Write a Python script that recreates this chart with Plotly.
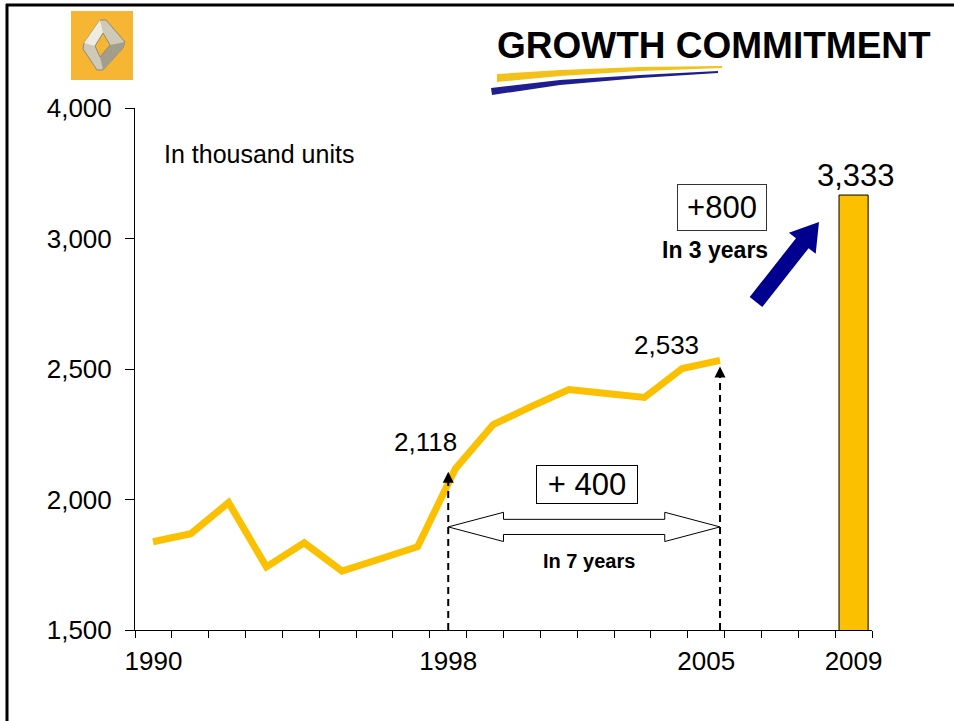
import plotly.graph_objects as go

# Annual sales, in thousand units
years = list(range(1990, 2006))
sales = [1838, 1869, 1988, 1742, 1834, 1726, 1772, 1819,
         2118, 2287, 2356, 2421, 2406, 2391, 2502, 2533]
target_year = 2009
target_sales = 3333
y_tick_values = [1500, 2000, 2500, 3000, 4000]
x_tick_years = [1990, 1998, 2005, 2009]

# Broken value axis: above 3,000 the scale is compressed by half
BREAK = 3000


def to_axis(v):
    return v if v <= BREAK else BREAK + (v - BREAK) / 2


YELLOW = "#FBC000"
NAVY = "#00008F"
FONT = "Liberation Sans, Arial, sans-serif"

W, H = 954, 721
ML, MT, MR, MB = 135, 108, 82, 91
PW, PH = W - ML - MR, H - MT - MB

X_RANGE = [1989.5, 2009.5]
X2_RANGE = [1989.524, 2009.02]   # the sales line sits on its own year scale
Y_RANGE = [1500, to_axis(4000)]


def px(x):
    return (x - ML) / PW


def py(y):
    return (H - MB - y) / PH


def poly(points):
    return "M " + " L ".join(f"{px(x):.5f},{py(y):.5f}" for x, y in points) + " Z"


def x2_to_x(v):
    f = (v - X2_RANGE[0]) / (X2_RANGE[1] - X2_RANGE[0])
    return X_RANGE[0] + f * (X_RANGE[1] - X_RANGE[0])


start_year, start_val = years[years.index(1998)], sales[years.index(1998)]
end_year, end_val = years[-1], sales[-1]

fig = go.Figure()

fig.add_trace(go.Bar(
    x=[target_year], y=[to_axis(target_sales)], width=0.79,
    marker=dict(color=YELLOW, line=dict(color="black", width=1)),
    hoverinfo="skip", showlegend=False,
))

fig.add_trace(go.Scatter(
    x=years, y=[to_axis(v) for v in sales], xaxis="x2", yaxis="y",
    mode="lines", line=dict(color=YELLOW, width=7),
    hoverinfo="skip", showlegend=False,
))

shapes = []
annotations = []

# page frame
shapes.append(dict(type="line", xref="paper", yref="paper",
                   x0=px(7), x1=px(7), y0=py(4), y1=py(H + 5),
                   line=dict(color="black", width=3)))
shapes.append(dict(type="line", xref="paper", yref="paper",
                   x0=px(6), x1=px(W + 5), y0=py(5), y1=py(5),
                   line=dict(color="black", width=3)))

# logo tile
shapes.append(dict(type="rect", xref="paper", yref="paper",
                   x0=px(71), x1=px(133), y0=py(80), y1=py(11),
                   fillcolor="#F6B532", line=dict(width=0)))
shapes.append(dict(type="path", xref="paper", yref="paper",
                   path=poly([(100, 20), (106, 20), (125, 42), (123, 48),
                              (103, 70), (97, 70), (83, 49), (84, 43)]),
                   fillcolor="#CFCAB7", line=dict(color="#8E8A78", width=1)))
shapes.append(dict(type="path", xref="paper", yref="paper",
                   path=poly([(110, 45), (125, 42), (123, 48), (103, 70), (100, 57)]),
                   fillcolor="#A39E8B", line=dict(width=0)))
shapes.append(dict(type="path", xref="paper", yref="paper",
                   path=poly([(84, 43), (100, 20), (103, 33), (95, 46)]),
                   fillcolor="#EEEBE0", line=dict(width=0)))
shapes.append(dict(type="path", xref="paper", yref="paper",
                   path=poly([(103, 33), (110, 45), (100, 57), (95, 46)]),
                   fillcolor="#F6B532", line=dict(color="#8E8A78", width=1)))

# title swooshes
shapes.append(dict(type="path", xref="paper", yref="paper",
                   path=poly([(497, 74), (560, 70), (640, 67), (722, 66),
                              (722, 68), (640, 71), (560, 76), (497, 82)]),
                   fillcolor="#F3C21A", line=dict(width=0)))
shapes.append(dict(type="path", xref="paper", yref="paper",
                   path=poly([(491, 88), (560, 80), (640, 75), (718, 71),
                              (718, 73), (640, 78), (560, 85), (492, 95)]),
                   fillcolor="#1E1E90", line=dict(width=0)))

# dashed drop lines with arrow heads at 1998 and 2005
shapes.append(dict(type="line", xref="x", yref="y",
                   x0=start_year, x1=start_year, y0=Y_RANGE[0], y1=to_axis(start_val) - 45,
                   line=dict(color="black", width=2, dash="7px,5px")))
shapes.append(dict(type="line", xref="x2", yref="y",
                   x0=end_year, x1=end_year, y0=Y_RANGE[0], y1=to_axis(end_val) - 45,
                   line=dict(color="black", width=2, dash="7px,5px")))
annotations.append(dict(x=start_year, y=to_axis(start_val), xref="x", yref="y",
                        text="", showarrow=True, ax=0, ay=16, arrowhead=2,
                        arrowsize=1.1, arrowwidth=2, standoff=3, arrowcolor="black"))
annotations.append(dict(x=end_year, y=to_axis(end_val), xref="x2", yref="y",
                        text="", showarrow=True, ax=0, ay=16, arrowhead=2,
                        arrowsize=1.1, arrowwidth=2, standoff=6, arrowcolor="black"))

# hollow double arrow spanning 1998-2005
xl, xr = start_year, x2_to_x(end_year)
head = 1.5
cy, hh, sh = 1895, 56, 29
arrow_path = (f"M {xl},{cy} L {xl + head},{cy + hh} L {xl + head},{cy + sh} "
              f"L {xr - head},{cy + sh} L {xr - head},{cy + hh} L {xr},{cy} "
              f"L {xr - head},{cy - hh} L {xr - head},{cy - sh} L {xl + head},{cy - sh} "
              f"L {xl + head},{cy - hh} Z")
shapes.append(dict(type="path", xref="x", yref="y", path=arrow_path,
                   fillcolor="white", line=dict(color="black", width=1)))

# solid navy arrow pointing at the 2009 bar
shapes.append(dict(type="path", xref="paper", yref="paper",
                   path=poly([(762.3, 307), (808.6, 248.2), (815.7, 253.7), (819, 222),
                              (788.9, 232.7), (796, 238.2), (749.7, 297)]),
                   fillcolor=NAVY, line=dict(width=0)))


def label(x, y, text, size, bold=False, **kw):
    t = f"<b>{text}</b>" if bold else text
    d = dict(x=px(x), y=py(y), xref="paper", yref="paper", text=t, showarrow=False,
             font=dict(family=FONT, size=size, color="black"),
             xanchor="center", yanchor="middle")
    d.update(kw)
    annotations.append(d)


label(714, 45, "GROWTH COMMITMENT", 37, bold=True)
label(162, 154, "In thousand units", 25, xanchor="left")
label(587, 484, "+ 400", 31, width=100, height=37, bordercolor="black",
      borderwidth=1, borderpad=0, bgcolor="white")
label(589, 561, "In 7 years", 20, bold=True)
label(722, 207, "+800", 31, width=88, height=45, bordercolor="#333333",
      borderwidth=1, borderpad=0, bgcolor="white")
label(715, 250, "In 3 years", 23, bold=True)

# value labels
annotations.append(dict(x=start_year, y=to_axis(start_val), xref="x", yref="y",
                        text=f"{start_val:,}", showarrow=False, xshift=-23, yshift=27,
                        font=dict(family=FONT, size=26, color="black")))
annotations.append(dict(x=end_year, y=to_axis(end_val), xref="x2", yref="y",
                        text=f"{end_val:,}", showarrow=False, xshift=-54, yshift=15,
                        font=dict(family=FONT, size=26, color="black")))
annotations.append(dict(x=target_year, y=to_axis(target_sales), xref="x", yref="y",
                        text=f"{target_sales:,}", showarrow=False, xshift=2, yshift=20,
                        font=dict(family=FONT, size=31, color="black")))

fig.update_layout(
    width=W, height=H,
    margin=dict(l=ML, r=MR, t=MT, b=MB),
    paper_bgcolor="white", plot_bgcolor="white",
    font=dict(family=FONT, color="black"),
    showlegend=False,
    shapes=shapes,
    annotations=annotations,
    xaxis=dict(
        range=X_RANGE, showgrid=False, zeroline=False,
        showline=True, linecolor="black", linewidth=1,
        tickmode="array", tickvals=x_tick_years,
        ticktext=[str(y) for y in x_tick_years],
        ticks="", ticklabelstandoff=8,
        tickfont=dict(family=FONT, size=26, color="black"),
        minor=dict(tickmode="array",
                   tickvals=[y - 0.5 for y in range(1990, 2011)],
                   ticks="outside", ticklen=7, tickcolor="black", tickwidth=1,
                   showgrid=False),
    ),
    xaxis2=dict(range=X2_RANGE, overlaying="x", visible=False, showgrid=False),
    yaxis=dict(
        range=Y_RANGE, showgrid=False, zeroline=False,
        showline=True, linecolor="black", linewidth=1,
        tickmode="array", tickvals=[to_axis(v) for v in y_tick_values],
        ticktext=[f"{v:,}" for v in y_tick_values],
        ticks="outside", ticklen=9, tickcolor="black", tickwidth=1,
        ticklabelstandoff=8,
        tickfont=dict(family=FONT, size=26, color="black"),
    ),
)

fig.write_html("out.html")
